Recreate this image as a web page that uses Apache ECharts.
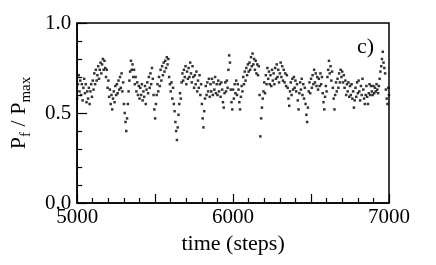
<!DOCTYPE html>
<html>
<head>
<meta charset="utf-8">
<script src="https://cdn.jsdelivr.net/npm/echarts@6/dist/echarts.min.js"></script>
<style>html,body{margin:0;padding:0;background:#fff;}#c{width:436px;height:265px;}</style>
</head>
<body>
<div id="c"></div>
<script>
const startStep = 5000;
const stepSize = 5;
const xTickLabels = ['5000', '6000', '7000'];
const yTickLabels = ['0.0', '0.5', '1.0'];
const panelLabel = 'c)';
const values = [
  0.58,0.66,0.71,0.62,0.68,0.60,0.66,0.57,0.64,0.69,0.61,0.66,0.56,0.62,0.58,0.64,0.55,0.62,0.66,0.59,
  0.68,0.63,0.72,0.66,0.74,0.68,0.71,0.76,0.69,0.74,0.78,0.72,0.77,0.80,0.74,0.79,0.75,0.70,0.74,0.64,
  0.68,0.59,0.63,0.55,0.60,0.52,0.58,0.62,0.56,0.65,0.60,0.66,0.61,0.68,0.63,0.70,0.64,0.72,0.62,0.67,
  0.55,0.50,0.45,0.40,0.47,0.55,0.62,0.68,0.73,0.79,0.74,0.77,0.70,0.74,0.66,0.70,0.62,0.67,0.60,0.65,
  0.58,0.64,0.60,0.66,0.57,0.62,0.59,0.65,0.55,0.63,0.67,0.61,0.70,0.64,0.72,0.66,0.75,0.69,0.60,0.52,
  0.47,0.55,0.60,0.66,0.62,0.70,0.65,0.74,0.68,0.76,0.71,0.78,0.73,0.79,0.75,0.81,0.77,0.80,0.70,0.66,
  0.62,0.67,0.58,0.64,0.55,0.51,0.45,0.40,0.35,0.42,0.49,0.55,0.61,0.58,0.67,0.72,0.68,0.74,0.70,0.76,
  0.66,0.73,0.69,0.75,0.70,0.78,0.72,0.67,0.76,0.70,0.64,0.71,0.66,0.73,0.62,0.68,0.64,0.71,0.60,0.66,
  0.55,0.47,0.42,0.51,0.58,0.65,0.60,0.67,0.62,0.69,0.59,0.66,0.62,0.69,0.60,0.67,0.63,0.70,0.61,0.66,
  0.60,0.68,0.62,0.66,0.59,0.67,0.63,0.56,0.53,0.61,0.67,0.62,0.68,0.64,0.74,0.82,0.78,0.63,0.56,0.52,
  0.63,0.58,0.66,0.61,0.68,0.60,0.66,0.63,0.56,0.52,0.59,0.65,0.62,0.70,0.66,0.73,0.68,0.75,0.71,0.77,
  0.73,0.78,0.74,0.81,0.76,0.83,0.77,0.80,0.74,0.79,0.72,0.77,0.71,0.76,0.60,0.37,0.47,0.53,0.58,0.62,
  0.67,0.61,0.71,0.66,0.75,0.69,0.73,0.66,0.71,0.65,0.74,0.68,0.72,0.66,0.75,0.69,0.77,0.70,0.74,0.67,
  0.72,0.78,0.70,0.76,0.68,0.74,0.67,0.72,0.65,0.71,0.64,0.58,0.54,0.62,0.67,0.60,0.69,0.63,0.70,0.64,
  0.68,0.62,0.66,0.57,0.52,0.61,0.67,0.63,0.69,0.60,0.66,0.58,0.64,0.55,0.49,0.45,0.53,0.62,0.67,0.61,
  0.69,0.64,0.71,0.66,0.74,0.67,0.72,0.65,0.70,0.63,0.69,0.65,0.72,0.66,0.70,0.61,0.56,0.52,0.59,0.65,
  0.62,0.70,0.74,0.79,0.72,0.76,0.68,0.73,0.64,0.58,0.52,0.60,0.67,0.62,0.69,0.64,0.72,0.67,0.74,0.70,
  0.73,0.67,0.71,0.64,0.68,0.60,0.66,0.62,0.67,0.59,0.65,0.60,0.66,0.58,0.62,0.53,0.57,0.64,0.59,0.67,
  0.61,0.68,0.62,0.57,0.65,0.60,0.69,0.63,0.58,0.55,0.60,0.65,0.59,0.55,0.61,0.66,0.60,0.65,0.62,0.60,
  0.65,0.61,0.64,0.62,0.66,0.63,0.61,0.65,0.69,0.73,0.76,0.80,0.84,0.78,0.75,0.72,0.63,0.58,0.55,0.64,
  0.60
];
const points = values.map((v, i) => [startStep + i * stepSize, v]);

const FONT = '"Liberation Serif", "DejaVu Serif", serif';
const chart = echarts.init(document.getElementById('c'), null, {renderer: 'canvas'});
chart.setOption({
  animation: false,
  backgroundColor: '#fff',
  grid: {left: 75, right: 47, top: 23, bottom: 62, show: true, borderColor: '#000', borderWidth: 1.5, backgroundColor: 'transparent'},
  xAxis: {
    type: 'value', min: 5000, max: 7000, interval: 500,
    name: 'time (steps)', nameLocation: 'middle', nameGap: 30,
    nameTextStyle: {fontFamily: FONT, fontSize: 22, color: '#000'},
    axisLine: {lineStyle: {color: '#000', width: 1.5}},
    axisTick: {inside: true, length: 9, lineStyle: {color: '#000', width: 1.2}},
    minorTick: {show: true, splitNumber: 5, length: 5, lineStyle: {color: '#000', width: 1.2}},
    splitLine: {show: false},
    axisLabel: {fontFamily: FONT, fontSize: 21, color: '#000', margin: 4,
      formatter: v => { const s = String(v); return xTickLabels.indexOf(s) >= 0 ? s : ''; }}
  },
  yAxis: {
    type: 'value', min: 0, max: 1, interval: 0.5,
    name: '{p|P}{s|f}{p| / P}{s|max}', nameLocation: 'middle', nameGap: 42,
    nameTextStyle: {fontFamily: FONT, color: '#000',
      rich: {
        p: {fontFamily: FONT, fontSize: 22, color: '#000', lineHeight: 30, verticalAlign: 'middle'},
        s: {fontFamily: FONT, fontSize: 15, color: '#000', lineHeight: 15, verticalAlign: 'bottom'}
      }},
    axisLine: {lineStyle: {color: '#000', width: 1.5}},
    axisTick: {inside: true, length: 10, lineStyle: {color: '#000', width: 1.2}},
    minorTick: {show: true, splitNumber: 5, length: 5, lineStyle: {color: '#000', width: 1.2}},
    splitLine: {show: false},
    axisLabel: {fontFamily: FONT, fontSize: 21, color: '#000', margin: 6,
      formatter: v => yTickLabels[Math.round(v * 2)]}
  },
  graphic: [{
    type: 'text', left: 357, top: 36,
    style: {text: panelLabel, font: '22px ' + FONT, fill: '#000'}
  }],
  series: [{
    type: 'scatter', data: points, symbol: 'rect', symbolSize: 2.5,
    itemStyle: {color: '#000'}, silent: true
  }]
});
</script>
</body>
</html>
